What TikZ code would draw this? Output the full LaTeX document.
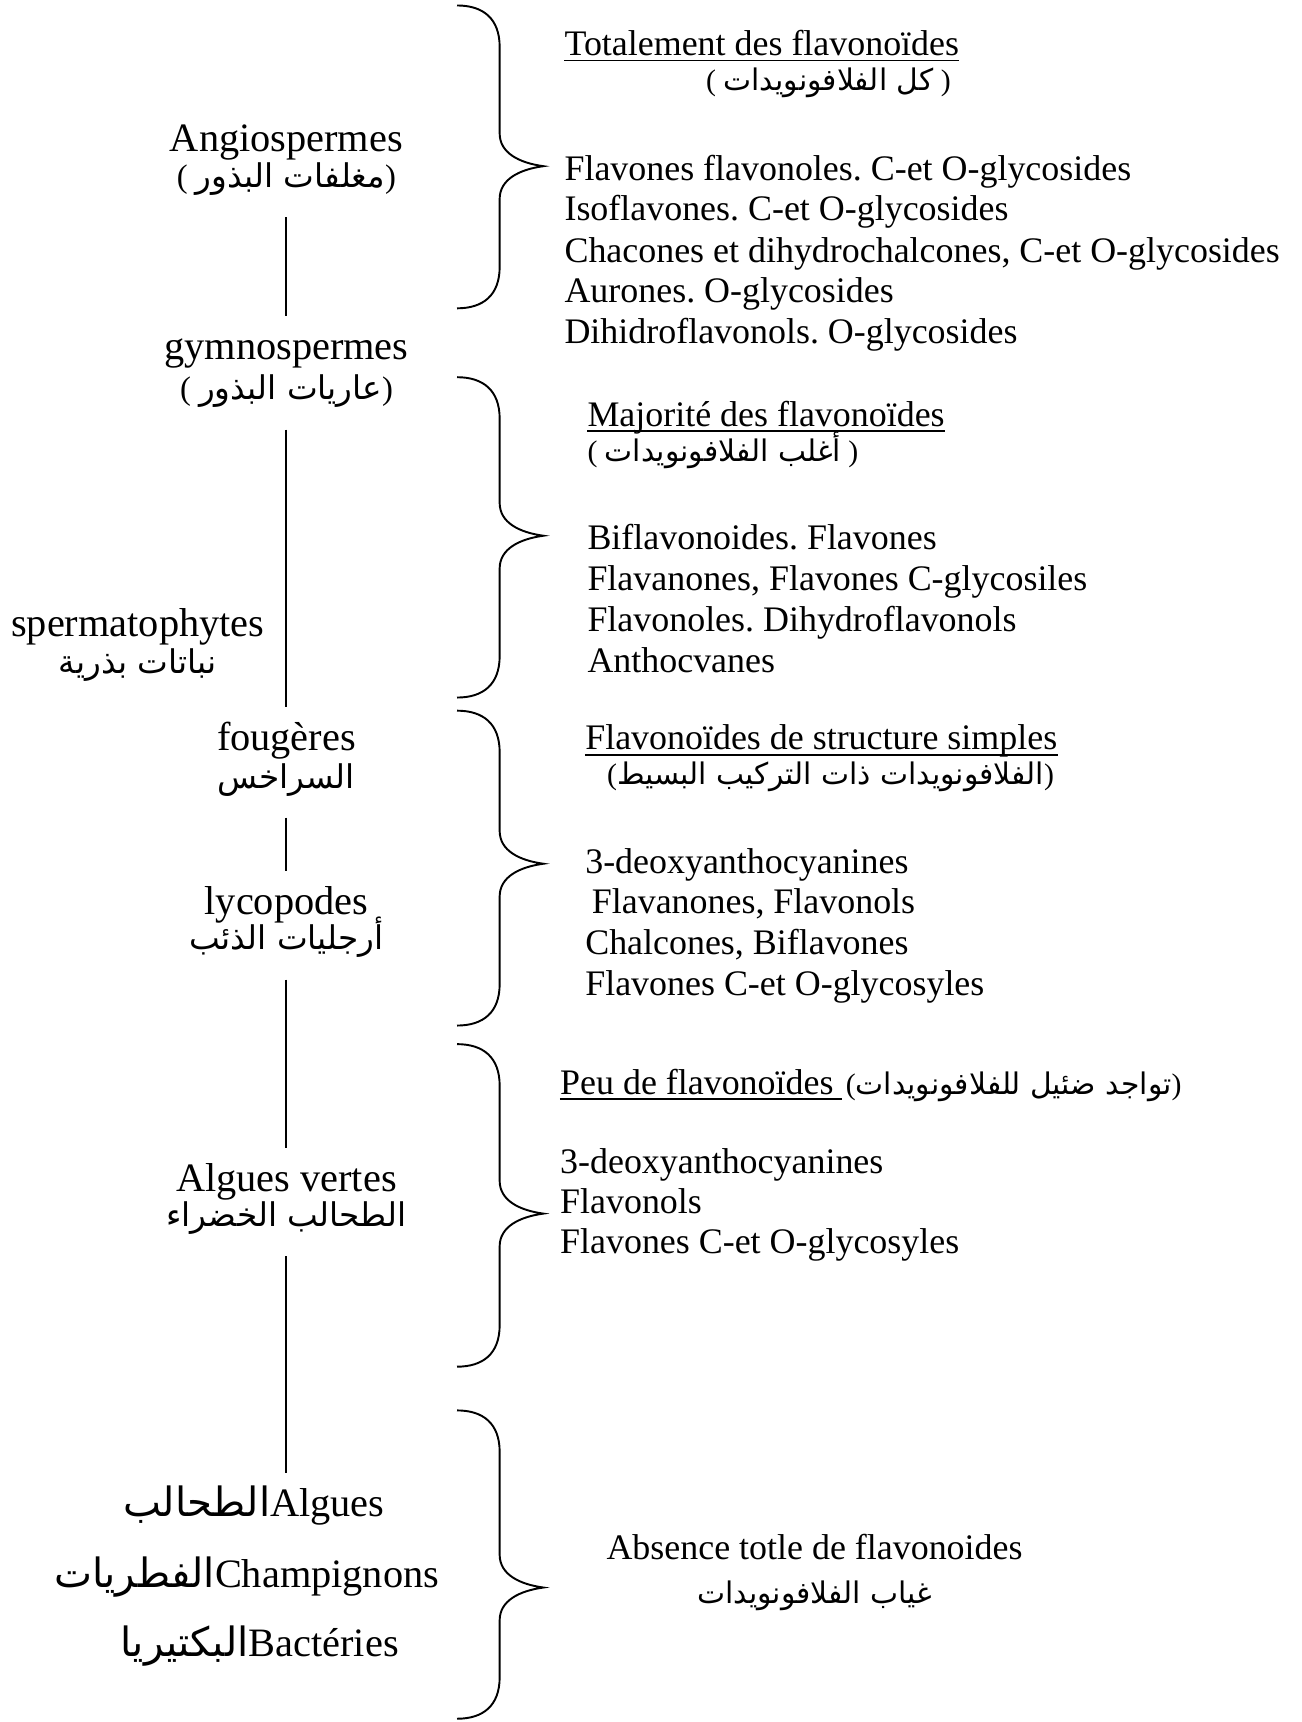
\documentclass[tikz,border=0pt]{standalone}
\usepackage{fontspec}
\setmainfont{Liberation Serif}
\newfontfamily\arabicfont[Script=Arabic]{DejaVu Sans}
\TeXXeTstate=1
\usetikzlibrary{positioning}
\frenchspacing

\newcommand{\arb}[1]{{\arabicfont\beginR #1\endR}}

\begin{document}
\begin{tikzpicture}[x=0.02cm,y=-0.02cm,
  lab/.style={inner sep=0pt,text height=15pt,text depth=5pt,yshift=-0.1cm,font=\fontsize{21}{25}\selectfont},
  labar/.style={inner sep=0pt,text height=15pt,text depth=5pt,font=\fontsize{17}{21}\selectfont},
  txt/.style={inner sep=0pt,anchor=west,text height=13pt,text depth=4pt,yshift=-0.1cm,font=\fontsize{18.7}{22}\selectfont},
  txtar/.style={inner sep=0pt,text height=13pt,text depth=4pt,font=\fontsize{15.5}{18}\selectfont},
  trunk/.style={line width=1pt,shorten <=0.36cm,shorten >=0.26cm},
  brace/.style={line width=1pt},
  uline/.style={line width=0.8pt}]
  \useasboundingbox (0,0) rectangle (1190,1575);

  % Left column
  \node[lab] (angio) at (262,125) {Angiospermes};
  \node[labar] (angioar) at (262,163) {( \arb{مغلفات البذور})};
  \node[lab] (gymno) at (262,315) {gymnospermes};
  \node[labar] (gymnoar) at (262,357) {( \arb{عاريات البذور})};
  \node[lab] (sperma) at (126,568) {spermatophytes};
  \node[labar] (spermaar) at (126,607) {\arb{نباتات بذرية}};
  \node[lab] (foug) at (262,673) {fougères};
  \node[labar] (fougar) at (262,712) {\arb{السراخس}};
  \node[lab] (lyco) at (262,823) {lycopodes};
  \node[labar] (lycoar) at (262,860) {\arb{أرجليات الذئب}};
  \node[lab] (algv) at (262,1076) {Algues vertes};
  \node[labar] (algvar) at (262,1113) {\arb{الطحالب الخضراء}};
  \node[lab,anchor=east] (alg) at (352,1373) {\arb{الطحالب}Algues};
  \node[lab,anchor=east] (champ) at (402,1438) {\arb{الفطريات}Champignons};
  \node[lab,anchor=east] (bact) at (365,1501) {\arb{البكتيريا}Bactéries};

  % Trunk
  \draw[trunk] (angioar) -- (gymno);
  \draw[trunk] (gymnoar) -- (foug);
  \draw[trunk] (fougar) -- (lyco);
  \draw[trunk] (lycoar) -- (algv);
  \draw[trunk] (algvar) -- (alg.north -| algv);

  % Braces
  \foreach \btop/\btip/\bbot in {5/152/282, 345/490/638, 650/790/938, 955/1110/1250, 1290/1452/1572}
    \draw[brace] (418,\btop) .. controls (442,\btop) and (457,\btop+12) .. (457,\btop+38)
      -- (457,\btip-30) .. controls (457,\btip-12) and (475,\btip-3) .. (497,\btip)
      .. controls (475,\btip+3) and (457,\btip+12) .. (457,\btip+30)
      -- (457,\bbot-38) .. controls (457,\bbot-12) and (442,\bbot) .. (418,\bbot);

  % Angiospermes
  \node[txt] (t1) at (516,38) {Totalement des flavonoïdes};
  \node[txtar,anchor=east] (t1ar) at (870,75) {( \arb{كل الفلافونويدات} )};
  \node[txt] (l11) at (516,152) {Flavones flavonoles. C-et O-glycosides};
  \node[txt] (l12) at (516,189) {Isoflavones. C-et O-glycosides};
  \node[txt] (l13) at (516,227) {Chacones et dihydrochalcones, C-et O-glycosides};
  \node[txt] (l14) at (516,264) {Aurones. O-glycosides};
  \node[txt] (l15) at (516,301) {Dihidroflavonols. O-glycosides};

  % Gymnospermes
  \node[txt] (t2) at (537,377) {Majorité des flavonoïdes};
  \node[txtar,anchor=west] (t2ar) at (537,414) {( \arb{أغلب الفلافونويدات} )};
  \node[txt] (l21) at (537,490) {Biflavonoides. Flavones};
  \node[txt] (l22) at (537,527) {Flavanones, Flavones C-glycosiles};
  \node[txt] (l23) at (537,565) {Flavonoles. Dihydroflavonols};
  \node[txt] (l24) at (537,602) {Anthocvanes};

  % Fougeres, lycopodes
  \node[txt] (t3) at (535,673) {Flavonoïdes de structure simples};
  \node[txtar,anchor=west] (t3ar) at (555,710) {(\arb{الفلافونويدات ذات التركيب البسيط})};
  \node[txt] (l31) at (535,786) {3-deoxyanthocyanines};
  \node[txt] (l32) at (541,823) {Flavanones, Flavonols};
  \node[txt] (l33) at (535,860) {Chalcones, Biflavones};
  \node[txt] (l34) at (535,898) {Flavones C-et O-glycosyles};

  % Algues vertes
  \node[txt] (t4) at (512,988) {Peu de flavonoïdes};
  \node[txtar,anchor=west,right=6pt of t4] (t4ar) {(\arb{تواجد ضئيل للفلافونويدات})};
  \node[txt] (l41) at (512,1060) {3-deoxyanthocyanines};
  \node[txt] (l42) at (512,1097) {Flavonols};
  \node[txt] (l43) at (512,1134) {Flavones C-et O-glycosyles};

  % Absence
  \node[txt,anchor=center] (abs) at (745,1413) {Absence totle de flavonoides};
  \node[txtar] (absar) at (745,1459) {\arb{غياب الفلافونويدات}};

  % Underlines
  \draw[uline] ([yshift=-2.5pt]t1.base west) -- ([yshift=-2.5pt]t1.base east);
  \draw[uline] ([yshift=-2.5pt]t2.base west) -- ([yshift=-2.5pt]t2.base east);
  \draw[uline] ([yshift=-2.5pt]t3.base west) -- ([yshift=-2.5pt]t3.base east);
  \draw[uline] ([yshift=-2.5pt]t4.base west) -- ([yshift=-2.5pt,xshift=4pt]t4.base east);
\end{tikzpicture}
\end{document}
